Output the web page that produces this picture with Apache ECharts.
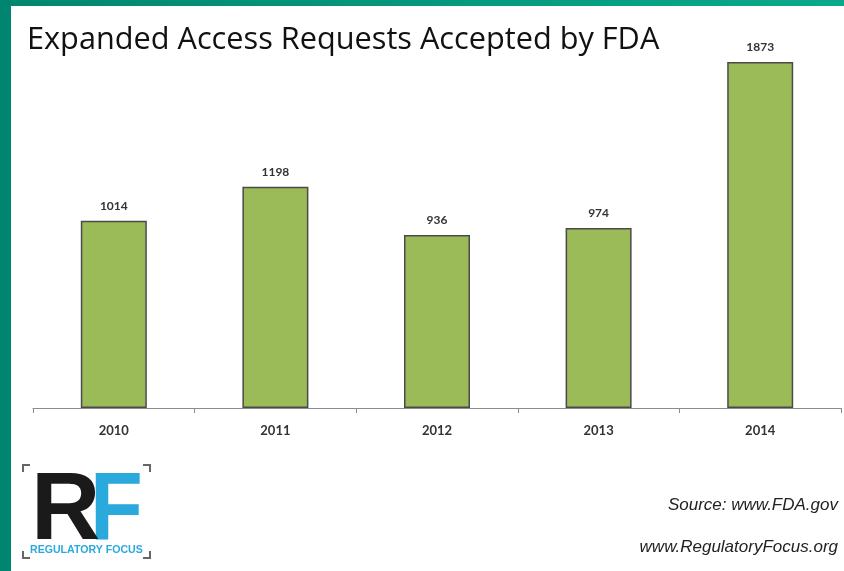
<!DOCTYPE html>
<html>
<head>
<meta charset="utf-8">
<script src="https://cdn.jsdelivr.net/npm/echarts@6/dist/echarts.min.js"></script>
<style>
  html, body { margin: 0; padding: 0; background: #fff; }
  #chart { width: 844px; height: 571px; }
</style>
</head>
<body>
<div id="chart"></div>
<script>
const years = ['2010', '2011', '2012', '2013', '2014'];
const requests = [1014, 1198, 936, 974, 1873];

const chart = echarts.init(document.getElementById('chart'), null, { renderer: 'canvas' });

const option = {
  backgroundColor: '#fff',
  animation: false,
  grid: { left: 33, right: 3, top: 38.5, bottom: 163 },
  xAxis: {
    type: 'category',
    data: years,
    axisLine: { lineStyle: { color: '#8c8c8c', width: 1 } },
    axisTick: { show: true, length: 5, lineStyle: { color: '#8c8c8c' } },
    axisLabel: {
      color: '#333',
      fontFamily: 'Lato',
      fontWeight: 'bold',
      fontSize: 13,
      margin: 16
    }
  },
  yAxis: {
    type: 'value',
    min: 0,
    max: 2000,
    show: false,
    splitLine: { show: false }
  },
  series: [{
    type: 'bar',
    data: requests,
    barWidth: 66,
    itemStyle: { color: '#9bbb59', borderColor: '#4a4a4a', borderWidth: 1.5 },
    label: {
      show: true,
      position: 'top',
      distance: 9,
      color: '#333',
      fontFamily: 'Lato',
      fontWeight: 'bold',
      fontSize: 12
    }
  }],
  graphic: [
    // teal frame
    { type: 'rect', left: 0, top: 0, shape: { width: 844, height: 6 },
      style: { fill: new echarts.graphic.LinearGradient(0, 0, 1, 0, [
        { offset: 0, color: '#008670' }, { offset: 1, color: '#0aa98b' }]) } },
    { type: 'rect', left: 0, top: 0, shape: { width: 11, height: 571 }, style: { fill: '#008670' } },
    // title
    { type: 'text', left: 27, top: 25,
      style: { text: 'Expanded Access Requests Accepted by FDA', fill: '#111',
        font: '30.7px "Open Sans"' } },
    // logo brackets
    { type: 'polyline', shape: { points: [[23, 472], [23, 465], [30, 465]] }, style: { stroke: '#666', lineWidth: 2, fill: null } },
    { type: 'polyline', shape: { points: [[143, 465], [150, 465], [150, 472]] }, style: { stroke: '#666', lineWidth: 2, fill: null } },
    { type: 'polyline', shape: { points: [[23, 551], [23, 558], [30, 558]] }, style: { stroke: '#666', lineWidth: 2, fill: null } },
    { type: 'polyline', shape: { points: [[143, 558], [150, 558], [150, 551]] }, style: { stroke: '#666', lineWidth: 2, fill: null } },
    { type: 'text', left: 90, top: 465, scaleX: 0.9,
      style: { text: 'F', fill: '#2aa9dc', font: 'bold 96px "Liberation Sans"' } },
    { type: 'text', left: 31, top: 465,
      style: { text: 'R', fill: '#1a1a1a', font: 'bold 96px "Liberation Sans"' } },
    { type: 'text', left: 30, top: 545,
      style: { text: 'REGULATORY FOCUS', fill: '#2aa9dc', font: 'bold 10.6px "Liberation Sans"' } },
    // sources
    { type: 'text', right: 6, top: 497,
      style: { text: 'Source: www.FDA.gov', fill: '#222', font: 'italic 17px "Liberation Sans"' } },
    { type: 'text', right: 6, top: 539,
      style: { text: 'www.RegulatoryFocus.org', fill: '#222', font: 'italic 17px "Liberation Sans"' } }
  ]
};

chart.setOption(option);
</script>
</body>
</html>
